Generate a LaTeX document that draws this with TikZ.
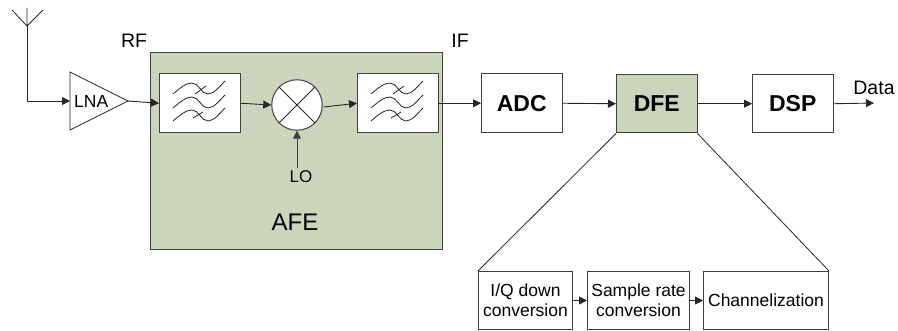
\documentclass[tikz,border=0pt]{standalone}
\usepackage{fontspec}
\setmainfont{Liberation Sans}
\usetikzlibrary{arrows.meta}
\definecolor{afegreen}{HTML}{CBD5BC}
\definecolor{edge}{HTML}{404040}
\tikzset{
  blockbox/.style={draw=edge,line width=1pt,fill=white,inner sep=0pt,minimum width=#1,minimum height=58.5pt,anchor=north west},
  blockbox/.default=80.5pt,
  wire/.style={draw=black!85,line width=0.9pt},
  conn/.style={wire,-{Triangle[length=8pt,width=8pt]}},
  thin line/.style={draw=black!85,line width=0.8pt},
  lbl/.style={inner sep=0pt,font=\fontsize{#1}{#1}\selectfont},
  bold lbl/.style={inner sep=0pt,font=\fontsize{23}{23}\selectfont\bfseries},
  subbox/.style={draw=edge,line width=1pt,fill=white,inner sep=0pt,minimum height=58pt,anchor=north west,align=center,font=\fontsize{17.5}{20}\selectfont},
  filtericon/.pic={
    \foreach \dy in {0,14,27}{
      \draw[thin line] (0,\dy) .. controls (7,{\dy-6}) and (13,{\dy-11}) .. (19,{\dy-11})
        .. controls (26,{\dy-11}) and (28,{\dy}) .. (35,{\dy})
        .. controls (41,{\dy}) and (47,{\dy-8}) .. (52,{\dy-13});
    }
    \draw[thin line] (22,0) -- (33,-8);
    \draw[thin line] (20,24) -- (30,18);
  }
}
\begin{document}
\begin{tikzpicture}[x=1pt,y=-1pt]
\useasboundingbox (0,0) rectangle (898,331);
% AFE container
\node[draw=edge,line width=1pt,fill=afegreen,inner sep=0pt,minimum width=292pt,minimum height=197pt,anchor=north west] (afe) at (150,52) {};
% antenna and amplifier
\coordinate (antL) at (12,10);
\coordinate (antR) at (43,10);
\coordinate (antB) at (27,26);
\coordinate (antT) at (27,8);
\coordinate (lnaA) at (70,72);
\coordinate (lnaB) at (70,130);
\coordinate (lnaTip) at (128,101);
\coordinate (lnaIn) at (70,101);
\draw[thin line] (antL) -- (antB) -- (antR) (antT) -- (antB);
\draw[thin line,fill=white] (lnaA) -- (lnaB) -- (lnaTip) -- cycle;
\node[lbl=17.5,anchor=west] (lna) at (74,101) {LNA};
\draw[conn] (antB) -- (27,101) -- (lnaIn);
% blocks
\node[blockbox] (f1) at (159,73.5) {};
\pic at (173,94) {filtericon};
\node[draw=edge,line width=1pt,fill=white,circle,minimum size=50.5pt,inner sep=0pt] (mix) at (297,105) {};
\draw[thin line] (mix.45) -- (mix.225) (mix.135) -- (mix.-45);
\node[blockbox] (f2) at (357,73.5) {};
\pic at (371,94) {filtericon};
\node[blockbox,bold lbl] (adc) at (481,73.5) {ADC};
\node[blockbox,bold lbl,fill=afegreen] (dfe) at (616,74) {DFE};
\node[blockbox,bold lbl] (dsp) at (752,74) {DSP};
% labels
\node[lbl=19.5] (rf) at (134,41) {RF};
\node[lbl=19.5] (if) at (460,41) {IF};
\node[lbl=17] (lo) at (301,177) {LO};
\node[lbl=24] (afelabel) at (295,222) {AFE};
\node[lbl=19.5] (data) at (874,88) {Data};
\coordinate (dataEnd) at (874,103);
% connectors
\draw[conn] (lnaTip) -- (f1.west);
\draw[conn] (f1.east) -- (mix.west);
\draw[conn] ([xshift=1pt,yshift=-2pt]mix.east) -- (f2.west);
\draw[conn] (f2.east) -- (adc.west);
\draw[conn] (adc.east) -- (dfe.west);
\draw[conn] (dfe.east) -- (dsp.west);
\draw[conn] (dsp.east) -- (dataEnd);
\draw[conn,draw=edge] (lo.north -| mix.south) ++(0,-3) -- (mix.south);
% DFE breakout
\node[subbox,minimum width=94pt] (iq) at (478,271) {I/Q down\\conversion};
\node[subbox,minimum width=102pt] (src) at (587,271) {Sample rate\\conversion};
\node[subbox,minimum width=125pt] (chan) at (703,271) {Channelization};
\draw[thin line] (dfe.south west) -- (iq.north west);
\draw[thin line] (dfe.south east) -- (chan.north east);
\draw[conn] (iq.east) -- (src.west);
\draw[conn] (src.east) -- (chan.west);
\end{tikzpicture}
\end{document}
